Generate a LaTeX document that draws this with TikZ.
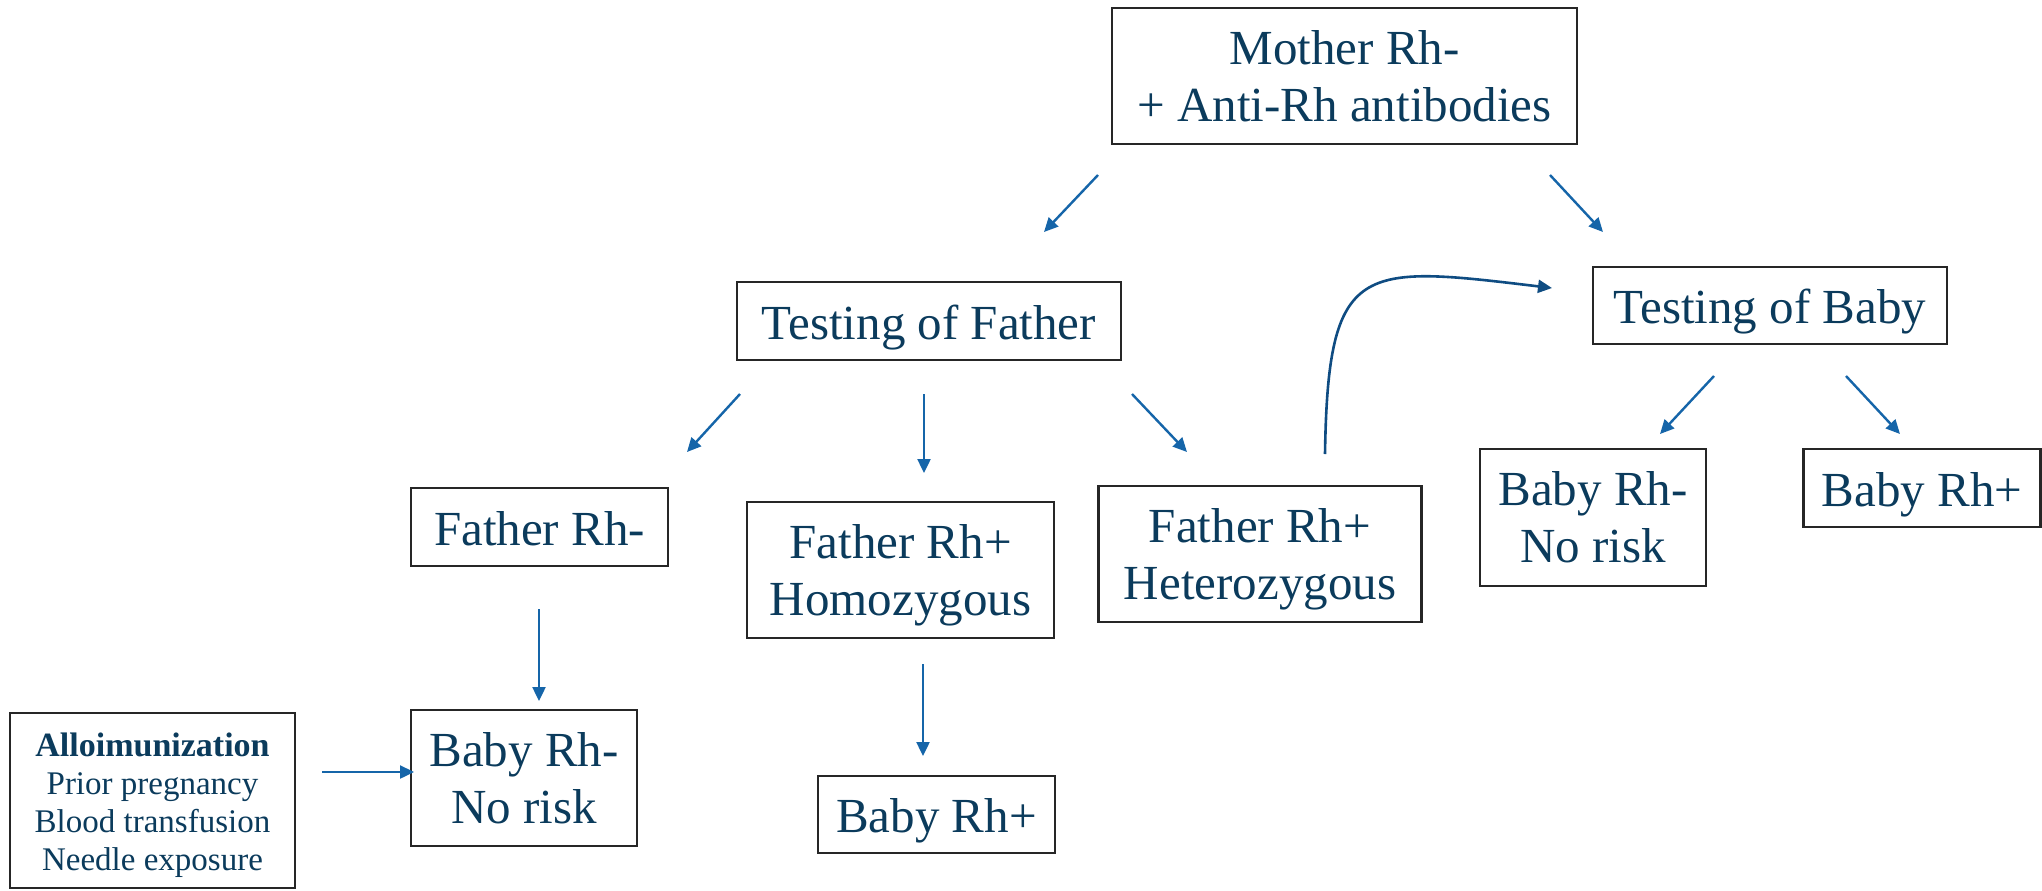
\documentclass[tikz,border=0pt]{standalone}
\usepackage{fontspec}
\setmainfont{Liberation Serif}
\usetikzlibrary{arrows.meta}
\definecolor{txt}{HTML}{0B3B5C}
\definecolor{arrc}{HTML}{1565A9}
\definecolor{arrd}{HTML}{0F4C82}
\begin{document}
\begin{tikzpicture}[x=0.5pt,y=-0.5pt,
  box/.style={draw=black!85,line width=1.1pt,fill=white,inner sep=0pt,align=center,text=txt,
    font=\fontsize{24.5}{28.5}\selectfont},
  one/.style={text height=18pt,text depth=0pt},
  two/.style={text height=45pt,text depth=0pt},
  arr/.style={draw=arrc,line width=1.2pt,-{Triangle[length=7pt,width=6.5pt]}},
  carr/.style={draw=arrd,line width=1.3pt,-{Triangle[length=7pt,width=6.5pt]}}]
\path[use as bounding box,fill=white] (0,0) rectangle (2042,890);

\node[box,two,minimum width=465*0.5pt,minimum height=136*0.5pt] (mother) at (1344.5,76) {Mother Rh-\\+ Anti-Rh antibodies};
\node[box,one,minimum width=384*0.5pt,minimum height=78*0.5pt] (tfather) at (929,321) {Testing of Father};
\node[box,one,minimum width=354*0.5pt,minimum height=77*0.5pt] (tbaby) at (1770,305.5) {Testing of Baby};
\node[box,one,minimum width=257*0.5pt,minimum height=78*0.5pt] (frhm) at (539.5,527) {Father Rh-};
\node[box,two,minimum width=307*0.5pt,minimum height=136*0.5pt] (homo) at (900.5,570) {Father Rh+\\Homozygous};
\node[box,two,minimum width=323*0.5pt,minimum height=136*0.5pt] (hetero) at (1260,554) {Father Rh+\\Heterozygous};
\node[box,two,minimum width=226*0.5pt,minimum height=137*0.5pt] (brmr) at (1593,517.5) {Baby Rh-\\No risk};
\node[box,one,minimum width=237*0.5pt,minimum height=78*0.5pt] (brpr) at (1922,488) {Baby Rh+};
\node[box,two,minimum width=226*0.5pt,minimum height=136*0.5pt] (brml) at (524,778) {Baby Rh-\\No risk};
\node[box,one,minimum width=237*0.5pt,minimum height=77*0.5pt] (brpb) at (936.5,814.5) {Baby Rh+};
\node[box,text height=70pt,text depth=0pt,minimum width=285*0.5pt,minimum height=175*0.5pt,font=\fontsize{16.5}{19}\selectfont] (allo) at (152.5,800.5)
  {{\fontsize{17}{19}\selectfont\textbf{Alloimunization}}\\Prior pregnancy\\Blood transfusion\\Needle exposure};

% arrow end points
\coordinate (m1s) at (1098,175); \coordinate (m1e) at (1044,232);
\coordinate (m2s) at (1550,175); \coordinate (m2e) at (1603,232);
\coordinate (f1s) at (740,394);  \coordinate (f1e) at (687,452);
\coordinate (f2s) at (924,394);  \coordinate (f2e) at (924,473);
\coordinate (f3s) at (1132,394); \coordinate (f3e) at (1187,452);
\coordinate (b1s) at (1714,376); \coordinate (b1e) at (1660,434);
\coordinate (b2s) at (1846,376); \coordinate (b2e) at (1900,434);
\coordinate (d1s) at (539,609);  \coordinate (d1e) at (539,701);
\coordinate (d2s) at (923,664);  \coordinate (d2e) at (923,756);
\coordinate (a1s) at (322,772);  \coordinate (a1e) at (414,772);
\coordinate (cs) at (1325,454);  \coordinate (ce) at (1552,288);

\draw[arr] (m1s) -- (m1e);
\draw[arr] (m2s) -- (m2e);
\draw[arr] (f1s) -- (f1e);
\draw[arr] (f2s) -- (f2e);
\draw[arr] (f3s) -- (f3e);
\draw[arr] (b1s) -- (b1e);
\draw[arr] (b2s) -- (b2e);
\draw[arr] (d1s) -- (d1e);
\draw[arr] (d2s) -- (d2e);
\draw[arr] (a1s) -- (a1e);
\draw[carr] (cs) .. controls (1328,260) and (1360,265) .. (ce);
\end{tikzpicture}
\end{document}
